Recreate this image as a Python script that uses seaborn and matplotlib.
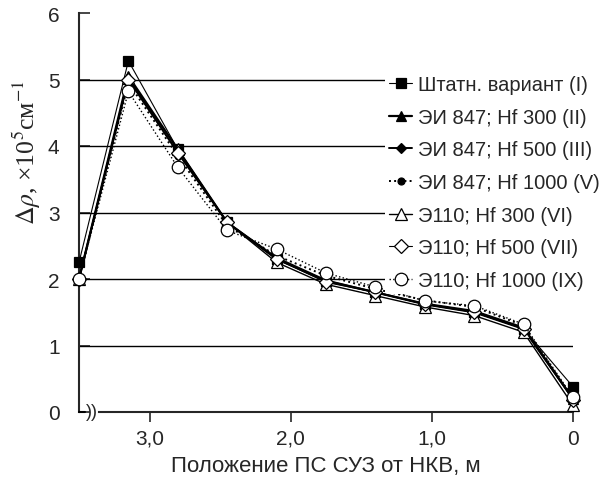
import matplotlib
matplotlib.use("Agg")
import matplotlib.pyplot as plt
import seaborn as sns
import pandas as pd

# positions along the rod (m)
x_pos = [3.5, 3.15, 2.8, 2.45, 2.1, 1.75, 1.4, 1.05, 0.7, 0.35, 0.0]

y_I = [2.25, 5.28, 3.95, 2.85, 2.30, 1.97, 1.80, 1.62, 1.50, 1.25, 0.38]
y_II = [2.00, 5.05, 3.95, 2.85, 2.30, 1.97, 1.80, 1.62, 1.50, 1.25, 0.20]
y_III = [2.00, 5.00, 3.90, 2.85, 2.32, 1.98, 1.80, 1.63, 1.52, 1.27, 0.20]
y_V = [2.00, 4.95, 3.85, 2.80, 2.35, 2.05, 1.85, 1.68, 1.58, 1.30, 0.20]
y_VI = [2.00, 5.02, 3.95, 2.85, 2.25, 1.92, 1.75, 1.58, 1.45, 1.20, 0.10]
y_VII = [2.00, 5.00, 3.90, 2.85, 2.30, 1.95, 1.80, 1.62, 1.50, 1.25, 0.18]
y_IX = [2.00, 4.82, 3.68, 2.73, 2.45, 2.09, 1.88, 1.67, 1.60, 1.32, 0.22]

labels = ["Штатн. вариант (I)", "ЭИ 847; Hf 300 (II)", "ЭИ 847; Hf 500 (III)",
          "ЭИ 847; Hf 1000 (V)", "Э110; Hf 300 (VI)", "Э110; Hf 500 (VII)",
          "Э110; Hf 1000 (IX)"]
series = [y_I, y_II, y_III, y_V, y_VI, y_VII, y_IX]

# marker, filled?, linestyle, linewidth, marker size
styles = [
    ("s", True, "-", 0.8, 7),
    ("^", True, "-", 1.6, 7),
    ("D", True, "-", 1.4, 5),
    ("o", True, ":", 1.4, 5),
    ("^", False, "-", 1.0, 8),
    ("D", False, "-", 0.8, 7),
    ("o", False, ":", 1.0, 9),
]

sns.set_style("white")
plt.rcParams['font.family'] = ['Liberation Sans', 'DejaVu Sans']
plt.rcParams['mathtext.fontset'] = 'stix'

fig = plt.figure(figsize=(6.15, 4.81), dpi=100)
ax = fig.add_axes([79 / 615, 1 - 413 / 481, (573 - 79) / 615, (413 - 14) / 481])

for yv in [1, 2, 3, 4, 5]:
    ax.axhline(yv, color="black", lw=1.0, zorder=1)

for lab, ys, (mk, filled, ls, lw, ms) in zip(labels, series, styles):
    df = pd.DataFrame({"x": x_pos, "y": ys})
    sns.lineplot(data=df, x="x", y="y", ax=ax, label=lab, color="black",
                 linestyle=ls, linewidth=lw, marker=mk, markersize=ms,
                 markerfacecolor="black" if filled else "white",
                 markeredgecolor="black", markeredgewidth=0.9,
                 clip_on=False, zorder=3, sort=False)

ax.set_xlim(3.5, 0)
ax.set_ylim(0, 6)
ax.set_xticks([3.0, 2.0, 1.0, 0.0])
ax.set_xticklabels(["3,0", "2,0", "1,0", "0"])
ax.set_yticks(range(7))
ax.tick_params(axis="y", direction="in", length=8, width=1.2, labelsize=15, pad=14)
ax.tick_params(axis="x", direction="out", length=7, width=1.2, labelsize=15, pad=5)
ax.tick_params(left=True, bottom=True)

for s in ["top", "right"]:
    ax.spines[s].set_visible(False)
ax.spines["left"].set_linewidth(1.5)
ax.spines["bottom"].set_linewidth(1.5)
ax.spines["bottom"].set_bounds(3.36, 0)

# axis break near the left end
ax.plot([3.5, 3.455], [0, 0], color="black", lw=1.5, clip_on=False, zorder=4)
ax.text(3.405, 0.0, "))", ha="center", va="center", fontsize=13)

ax.set_xlabel("Положение ПС СУЗ от НКВ, м", fontsize=16, labelpad=5)
ax.set_ylabel(r"$\Delta\rho$, ×10$^5$см$^{-1}$", fontsize=18.5,
              family=["Liberation Serif", "DejaVu Serif"])
ax.yaxis.set_label_coords(-0.072, 0.652)

leg = ax.legend(loc="upper left", bbox_to_anchor=(0.6, 0.88), frameon=True,
                fontsize=14.5, handlelength=1.1, handletextpad=0.3,
                labelspacing=0.68, borderpad=0.2, framealpha=1)
leg.get_frame().set_edgecolor("white")
leg.get_frame().set_linewidth(0)
leg.set_zorder(5)

fig.savefig("out.png", dpi=100)
